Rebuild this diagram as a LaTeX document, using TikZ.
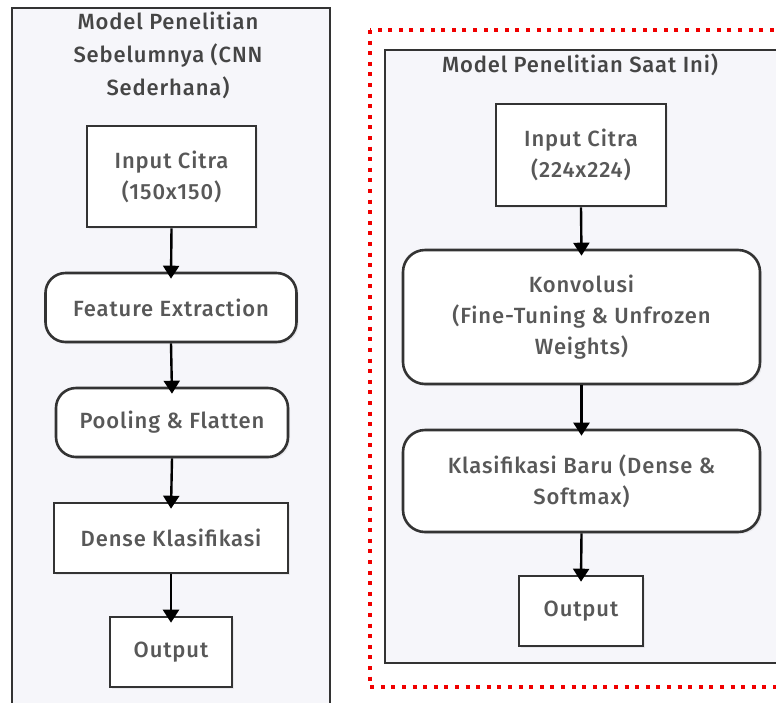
\documentclass[tikz,border=0pt]{standalone}
\usepackage{fontspec}
\setmainfont{Fira Sans}[UprightFont={* Medium}, LetterSpace=4]
\usetikzlibrary{arrows.meta,shadows}
\definecolor{framefill}{HTML}{F6F6FA}
\definecolor{edge}{HTML}{333333}
\definecolor{txt}{HTML}{585858}
\definecolor{ttl}{HTML}{454545}
\definecolor{dotred}{HTML}{F00000}
\tikzset{
  base/.style={draw=edge, line width=2.6pt, fill=white, text=txt, align=center,
    font=\fontsize{22}{31}\selectfont, inner sep=0pt,
    drop shadow={opacity=0.12, shadow xshift=2pt, shadow yshift=-2pt}},
  sqbox/.style={base},
  rbox/.style={base, rounded corners=20pt},
  flowarrow/.style={draw=black, line width=2.4pt, -{Triangle[width=16pt,length=13pt]}},
  frame/.style={draw=edge, line width=2.8pt, fill=framefill},
  title/.style={text=ttl, align=center, font=\fontsize{22}{33}\selectfont, inner sep=0pt}
}
\begin{document}
\begin{tikzpicture}[x=1pt,y=-1pt]
\useasboundingbox (0,0) rectangle (776,702);
\fill[white] (0,0) rectangle (776,702);
\begin{scope}
\clip (0,0) rectangle (776,702);
% left frame
\draw[frame] (12,8) rectangle (330,730);
% red dotted frame
\draw[dotred, line width=3.5pt, dash pattern=on 4pt off 6.6pt] (370,30) rectangle (800,687);
% right inner frame
\draw[frame] (385,50) rectangle (800,663);
\end{scope}

\node[title] (tL) at (168,55) {Model Penelitian\\Sebelumnya (CNN\\Sederhana)};
\node[title] (tR) at (580,65) {Model Penelitian Saat Ini)};

% left column
\node[sqbox, minimum width=169pt, minimum height=101pt] (inL) at (171.5,176.5) {Input Citra\\(150x150)};
\node[rbox, minimum width=251pt, minimum height=69pt] (feat) at (171,307.5) {Feature Extraction};
\node[rbox, minimum width=232pt, minimum height=69pt] (pool) at (172,422.5) {Pooling \& Flatten};
\node[sqbox, minimum width=234pt, minimum height=70pt] (dense) at (171,538) {Dense Klasifikasi};
\node[sqbox, minimum width=122pt, minimum height=70pt] (outL) at (171,652) {Output};

% right column
\node[sqbox, minimum width=170pt, minimum height=102pt] (inR) at (581,155) {Input Citra\\(224x224)};
\node[rbox, rounded corners=22pt, minimum width=357pt, minimum height=134pt] (konv) at (581.5,317) {Konvolusi\\(Fine-Tuning \& Unfrozen\\Weights)};
\node[rbox, rounded corners=22pt, minimum width=357pt, minimum height=102pt] (klas) at (581.5,481) {Klasifikasi Baru (Dense \&\\Softmax)};
\node[sqbox, minimum width=124pt, minimum height=70pt] (outR) at (581,611) {Output};

% arrows
\draw[flowarrow] (inL.south) -- ([yshift=-7pt]feat.north);
\draw[flowarrow] (feat.south) -- ([yshift=-7pt]pool.north);
\draw[flowarrow] (pool.south) -- ([yshift=-7pt]dense.north);
\draw[flowarrow] (dense.south) -- ([yshift=-7pt]outL.north);
\draw[flowarrow] (inR.south) -- ([yshift=-7pt]konv.north);
\draw[flowarrow] (konv.south) -- ([yshift=-7pt]klas.north);
\draw[flowarrow] (klas.south) -- ([yshift=-7pt]outR.north);
\end{tikzpicture}
\end{document}
